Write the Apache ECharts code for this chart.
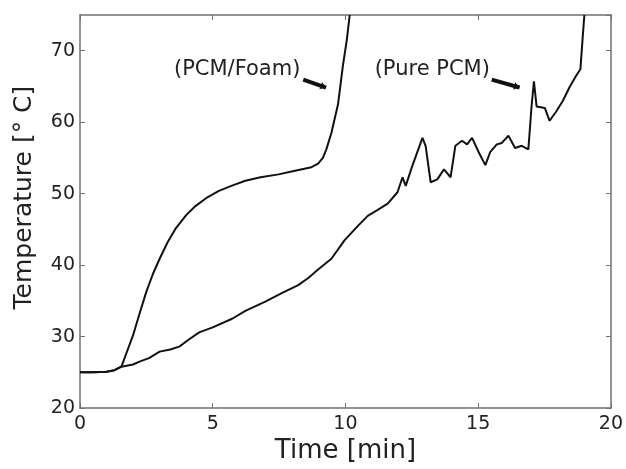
<!DOCTYPE html>
<html>
<head>
<meta charset="utf-8">
<script src="https://cdn.jsdelivr.net/npm/echarts@6/dist/echarts.min.js"></script>
<style>
  html, body { margin: 0; padding: 0; background: #fff; }
  #chart { width: 626px; height: 469px; }
</style>
</head>
<body>
<div id="chart"></div>
<script>
// time in minutes, temperature in deg C
var foamTime = [0, 0.5, 1.0, 1.3, 1.56, 1.8, 2.0, 2.25, 2.5, 2.75, 3.0, 3.3, 3.6, 4.0, 4.36, 4.8, 5.23, 5.7, 6.23, 6.8, 7.48, 8.1, 8.72, 8.97, 9.15, 9.28, 9.47, 9.72, 9.9, 10.05, 10.16];
var foamTemp = [25.0, 25.0, 25.1, 25.3, 25.8, 28.2, 30.2, 33.3, 36.3, 38.8, 40.9, 43.2, 45.1, 47.0, 48.3, 49.5, 50.4, 51.1, 51.8, 52.3, 52.7, 53.2, 53.7, 54.2, 55.0, 56.2, 58.5, 62.5, 67.8, 71.5, 75];

var pureTime = [0, 0.5, 1.0, 1.3, 1.56, 2.0, 2.24, 2.6, 3.0, 3.4, 3.74, 4.1, 4.49, 5.0, 5.73, 6.23, 6.98, 7.6, 8.22, 8.6, 8.97, 9.47, 9.97, 10.47, 10.84, 11.2, 11.59, 11.96, 12.15, 12.27, 12.52, 12.9, 13.02, 13.21, 13.46, 13.71, 13.96, 14.14, 14.39, 14.58, 14.77, 15.02, 15.27, 15.45, 15.7, 15.89, 16.14, 16.39, 16.64, 16.89, 17.01, 17.1, 17.2, 17.51, 17.69, 17.94, 18.19, 18.44, 18.69, 18.85, 18.94, 19.0];
var pureTemp = [25.0, 25.0, 25.1, 25.3, 25.8, 26.1, 26.5, 27.0, 27.9, 28.2, 28.6, 29.6, 30.6, 31.3, 32.5, 33.6, 34.9, 36.1, 37.2, 38.2, 39.4, 40.9, 43.5, 45.5, 46.9, 47.7, 48.6, 50.2, 52.3, 51.1, 53.9, 57.8, 56.7, 51.6, 52.0, 53.4, 52.3, 56.7, 57.4, 56.9, 57.8, 55.8, 54.0, 55.8, 56.9, 57.1, 58.1, 56.4, 56.7, 56.2, 62.2, 65.7, 62.2, 62.0, 60.2, 61.5, 63.0, 64.9, 66.5, 67.4, 72.0, 75];

var xTicks = [0, 5, 10, 15, 20];
var yTicks = [20, 30, 40, 50, 60, 70];

var labels = ['(PCM/Foam)', '(Pure PCM)'];

function pairs(xs, ys) {
  return xs.map(function (x, i) { return [x, ys[i]]; });
}

var chart = echarts.init(document.getElementById('chart'), null, { renderer: 'canvas' });

var font = 'DejaVu Sans';
var axisColor = '#707070';

function frameAxis(extra) {
  var a = {
    type: 'value',
    axisLine: { show: true, onZero: false, lineStyle: { color: axisColor, width: 1.5 } },
    axisTick: { show: true, inside: true, length: 5, lineStyle: { color: axisColor, width: 1 } },
    splitLine: { show: false }
  };
  for (var k in extra) a[k] = extra[k];
  return a;
}

var option = {
  animation: false,
  backgroundColor: '#fff',
  grid: { left: 80, right: 11, top: 15, bottom: 59 },
  xAxis: [
    frameAxis({
      min: 0, max: 20, interval: 5,
      position: 'bottom',
      name: 'Time [min]',
      nameLocation: 'middle',
      nameGap: 26,
      nameTextStyle: { fontFamily: font, fontSize: 26, color: '#222', verticalAlign: 'top' },
      axisLabel: { fontFamily: font, fontSize: 19, color: '#222', margin: 6 }
    }),
    frameAxis({
      min: 0, max: 20, interval: 5,
      position: 'top',
      axisLabel: { show: false }
    })
  ],
  yAxis: [
    frameAxis({
      min: 20, max: 75, interval: 10,
      position: 'left',
      name: 'Temperature [° C]',
      nameLocation: 'middle',
      nameGap: 43,
      nameTextStyle: { fontFamily: font, fontSize: 25, color: '#222', padding: [0, 0, 0, 28] },
      axisLabel: { fontFamily: font, fontSize: 19, color: '#222', margin: 5, showMaxLabel: false }
    }),
    frameAxis({
      min: 20, max: 75, interval: 10,
      position: 'right',
      axisLabel: { show: false }
    })
  ],
  series: [
    {
      name: 'PCM/Foam',
      type: 'line',
      data: pairs(foamTime, foamTemp),
      showSymbol: false,
      smooth: false,
      clip: true,
      lineStyle: { color: '#111', width: 2 },
      markPoint: {
        silent: true,
        symbol: 'circle',
        symbolSize: 0,
        label: { show: true, position: 'inside', fontFamily: font, fontSize: 21, color: '#222', formatter: function (p) { return p.name; } },
        data: [
          { name: labels[0], coord: [5.92, 67.35] },
          { name: labels[1], coord: [13.27, 67.35] }
        ]
      },
      markLine: {
        silent: true,
        symbol: ['none', 'arrow'],
        symbolSize: 6,
        label: { show: false },
        lineStyle: { color: '#111', width: 4, type: 'solid' },
        data: [
          [{ coord: [8.41, 65.96] }, { coord: [9.27, 64.85] }],
          [{ coord: [15.51, 65.96] }, { coord: [16.56, 64.85] }]
        ]
      }
    },
    {
      name: 'Pure PCM',
      type: 'line',
      data: pairs(pureTime, pureTemp),
      showSymbol: false,
      clip: true,
      lineStyle: { color: '#111', width: 2 }
    }
  ]
};

chart.setOption(option);
</script>
</body>
</html>
